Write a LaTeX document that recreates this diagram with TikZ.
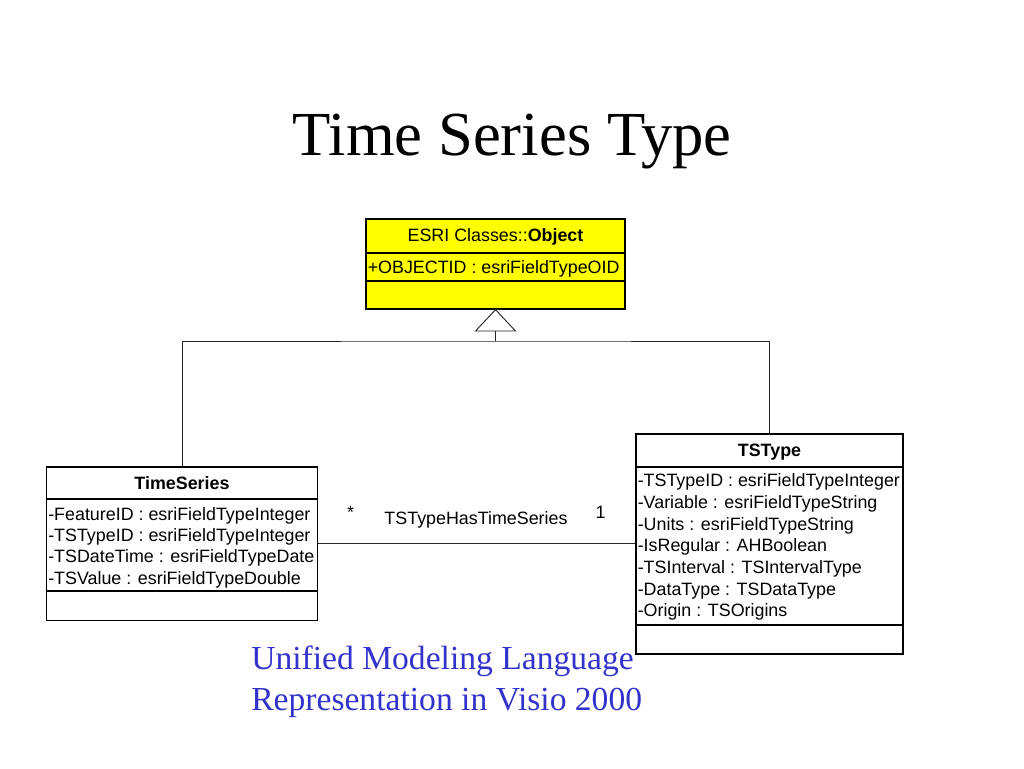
\documentclass[tikz,border=0pt]{standalone}
\usepackage{fontspec}
\setmainfont{Liberation Serif}
\newfontfamily\umlfont{Liberation Sans}
\definecolor{capblue}{RGB}{51,51,204}
\definecolor{umlyellow}{RGB}{255,255,0}
\begin{document}
\begin{tikzpicture}[x=0.75pt,y=-0.75pt,
  umlbox/.style={draw=black, line width=1pt, inner sep=0pt, rectangle},
  sepline/.style={draw=black, line width=1pt},
  attr/.style={anchor=base west, inner sep=0pt, font=\umlfont\fontsize{13.4}{15}\selectfont},
  hdr/.style={anchor=base, inner sep=0pt, font=\umlfont\fontsize{13.4}{15}\selectfont},
  conn/.style={draw=black!85, line width=0.7pt},
  lbl/.style={anchor=base, inner sep=0pt, font=\umlfont\fontsize{13.4}{15}\selectfont},
  titletext/.style={anchor=base, inner sep=0pt, font=\fontsize{47}{52}\selectfont},
  captext/.style={anchor=base west, inner sep=0pt, text=capblue, font=\fontsize{25.2}{30}\selectfont}]
\useasboundingbox[fill=white] (0,0) rectangle (1024,768);

% Title
\node[titletext] (title) at (512,155) {Time Series Type};

% Object class
\node[umlbox, fill=umlyellow, minimum width=194.25pt, minimum height=67.5pt] (object) at (495.5,264) {};
\draw[sepline] (object.west |- 0,253) -- (object.east |- 0,253);
\draw[sepline] (object.west |- 0,281) -- (object.east |- 0,281);
\node[hdr] (objhdr) at (495.5,241.7) {ESRI Classes::\textbf{Object}};
\node[attr] (objattr) at (367.5,273.3) {+OBJECTID : esriFieldTypeOID};

% TimeSeries class
\node[umlbox, fill=white, minimum width=203.25pt, minimum height=115.1pt] (timeseries) at (182,543.75) {};
\draw[sepline] (timeseries.west |- 0,499) -- (timeseries.east |- 0,499);
\draw[sepline] (timeseries.west |- 0,591) -- (timeseries.east |- 0,591);
\node[hdr] (tshdr) at (182,489) {\textbf{TimeSeries}};
\node[attr] (ts1) at (48,520) {-FeatureID : esriFieldTypeInteger};
\node[attr] (ts2) at (48,541.3) {-TSTypeID : esriFieldTypeInteger};
\node[attr] (ts3) at (48,562.6) {-TSDateTime : esriFieldTypeDate};
\node[attr] (ts4) at (48,584) {-TSValue : esriFieldTypeDouble};

% TSType class
\node[umlbox, fill=white, minimum width=200.25pt, minimum height=165pt] (tstype) at (769.5,544) {};
\draw[sepline] (tstype.west |- 0,467) -- (tstype.east |- 0,467);
\draw[sepline] (tstype.west |- 0,625) -- (tstype.east |- 0,625);
\node[hdr] (tthdr) at (769.5,456.7) {\textbf{TSType}};
\node[attr] (tt1) at (637.5,486.7) {-TSTypeID : esriFieldTypeInteger};
\node[attr] (tt2) at (637.5,508.4) {-Variable : esriFieldTypeString};
\node[attr] (tt3) at (637.5,530) {-Units : esriFieldTypeString};
\node[attr] (tt4) at (637.5,551.7) {-IsRegular : AHBoolean};
\node[attr] (tt5) at (637.5,573.4) {-TSInterval : TSIntervalType};
\node[attr] (tt6) at (637.5,595) {-DataType : TSDataType};
\node[attr] (tt7) at (637.5,616.7) {-Origin : TSOrigins};

% Generalization
\coordinate (tribase) at (495.5,331);
\coordinate (junc) at (495.5,341);
\draw[conn, fill=white] (object.south) -- ([xshift=-15pt]tribase) -- ([xshift=15pt]tribase) -- cycle;
\draw[conn] (tribase) -- (junc);
\draw[conn] (timeseries.north) |- (junc) -| (tstype.north);

% Association
\draw[conn] (timeseries.east) -- (tstype.west |- timeseries.east);
\node[lbl] (mstar) at (350.5,518) {*};
\node[lbl] (assoc) at (476,524) {TSTypeHasTimeSeries};
\node[lbl] (mone) at (600.5,518) {1};

% Caption
\node[captext] (cap1) at (251,669) {Unified Modeling Language};
\node[captext] (cap2) at (251,710) {Representation in Visio 2000};
\end{tikzpicture}
\end{document}
